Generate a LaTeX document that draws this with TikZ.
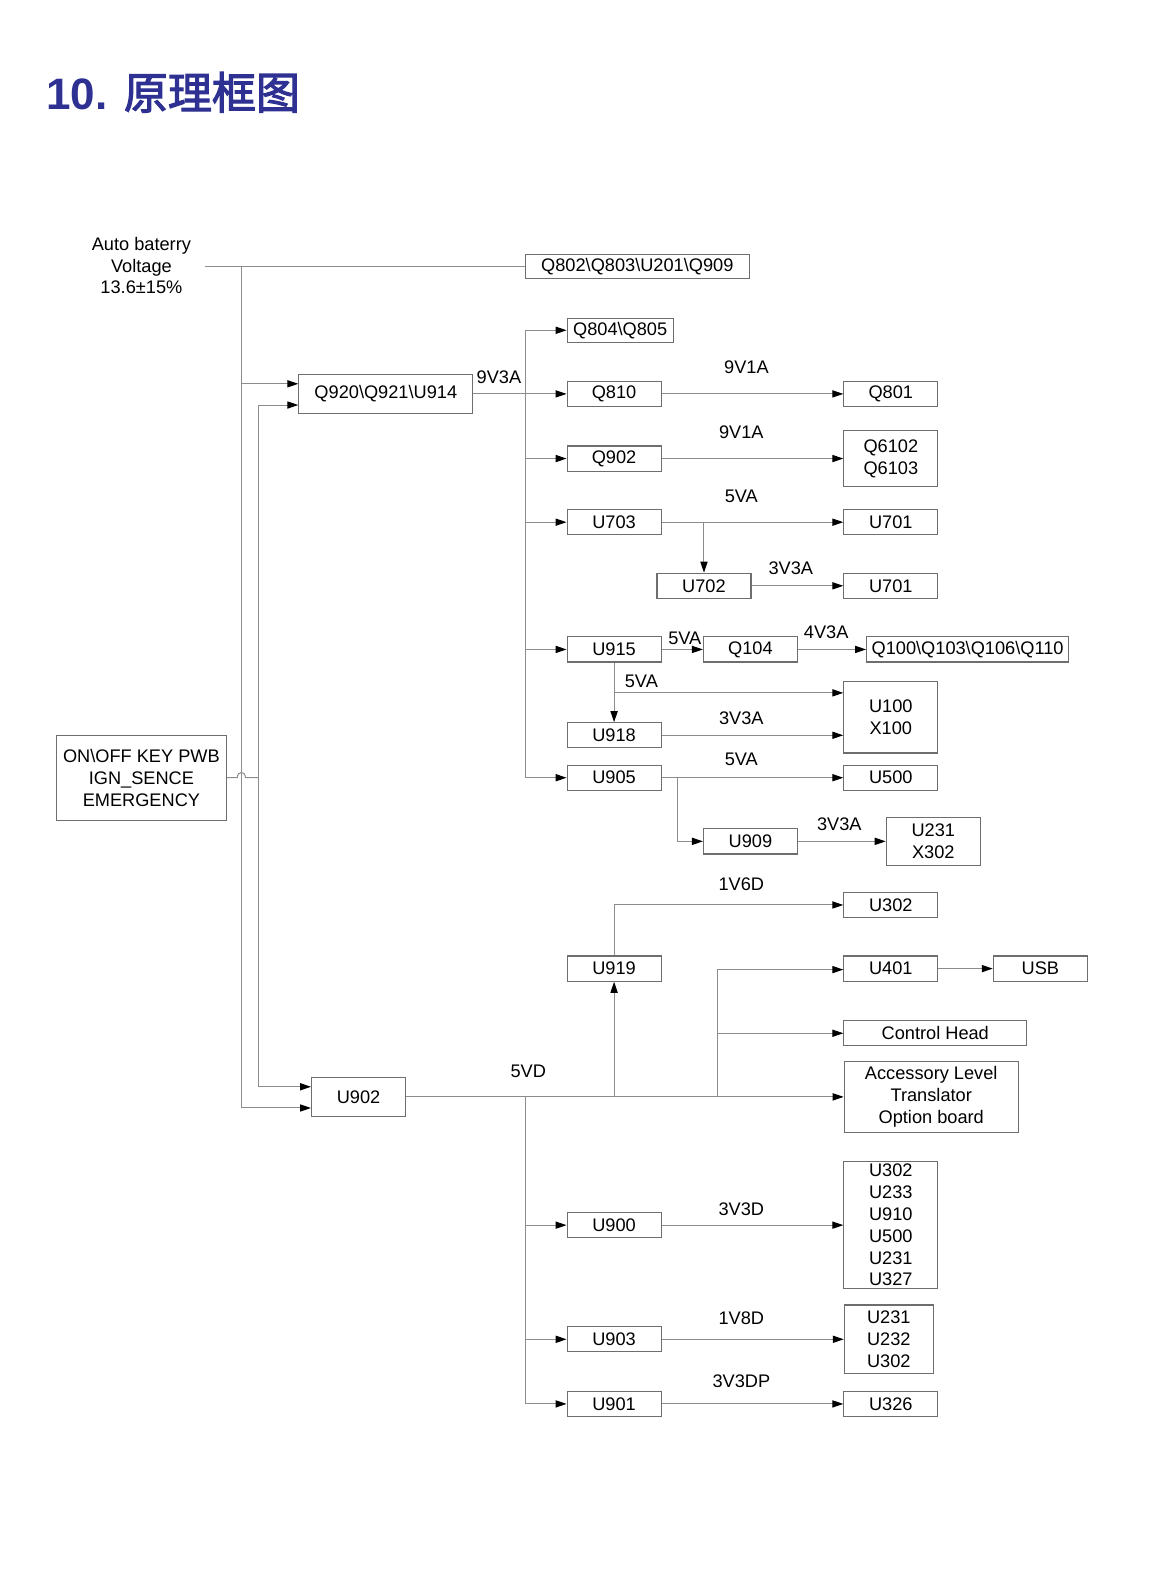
\documentclass[tikz,border=0pt]{standalone}
\usepackage{fontspec}
\setmainfont{Liberation Sans}
\newfontface\cjk[FakeBold=2.5]{Noto Sans CJK SC}
\usetikzlibrary{arrows.meta}
\definecolor{titleblue}{RGB}{46,49,146}
\definecolor{wiregray}{RGB}{140,140,140}
\definecolor{boxgray}{RGB}{110,110,110}
\begin{document}
\begin{tikzpicture}[x=0.505pt, y=-0.505pt, font=\fontsize{9.1}{10.9}\selectfont,
	block/.style = {draw=boxgray, line width=0.55pt, inner sep=0pt, minimum width=47pt, minimum height=12.6pt, align=center},
	wire/.style = {draw=wiregray, line width=0.5pt},
	feed/.style = {wire, -{Triangle[length=5.5pt, width=3.6pt, color=black]}}]

		\useasboundingbox (0,0) rectangle (1138.6,1568.3);

		\node[anchor=base west, text=titleblue, font=\fontsize{22}{26}\selectfont\bfseries] (title) at (39,108) {10. {\cjk 原理框图}};

		% supply side
		\node[align=center] (batt) at (140,263) {Auto baterry\\Voltage\\13.6±15\%};
		\node[block, minimum width=85pt, minimum height=42.5pt] (key) at (140,770) {ON\textbackslash OFF KEY PWB\\IGN\_SENCE\\EMERGENCY};
		\node[block, minimum width=112pt, minimum height=12.2pt] (q802) at (631,264) {Q802\textbackslash Q803\textbackslash U201\textbackslash Q909};
		\node[block, minimum width=87pt, minimum height=19.2pt] (q920) at (382,390) {Q920\textbackslash Q921\textbackslash U914};
		\node[block, minimum height=19.7pt] (u902) at (355,1086) {U902};

		% 9V3A branch
		\node[block, minimum width=53pt, minimum height=12.2pt] (q804) at (614,327) {Q804\textbackslash Q805};
		\node[block] (q810) at (608,390) {Q810};
		\node[block] (q801) at (882,390) {Q801};
		\node[block] (q902) at (608,454) {Q902};
		\node[block, minimum height=28.3pt] (q6102) at (882,454) {Q6102\\Q6103};
		\node[block] (u703) at (608,517) {U703};
		\node[block] (u701a) at (882,517) {U701};
		\node[block] (u702) at (697,580) {U702};
		\node[block] (u701b) at (882,580) {U701};
		\node[block] (u915) at (608,643) {U915};
		\node[block] (q104) at (743,643) {Q104};
		\node[block, minimum width=101pt] (q100) at (958,643) {Q100\textbackslash Q103\textbackslash Q106\textbackslash Q110};
		\node[block] (u918) at (608,728) {U918};
		\node[block, minimum height=35.9pt] (u100) at (882,710) {U100\\X100};
		\node[block] (u905) at (608,770) {U905};
		\node[block] (u500) at (882,770) {U500};
		\node[block] (u909) at (743,833) {U909};
		\node[block, minimum height=23.7pt] (u231) at (924,833) {U231\\X302};

		% 5VD branch
		\node[block] (u302) at (882,896) {U302};
		\node[block] (u919) at (608,959) {U919};
		\node[block] (u401) at (882,959) {U401};
		\node[block] (usb) at (1030,959) {USB};
		\node[block, minimum width=91.4pt] (ctrl) at (926,1023) {Control Head};
		\node[block, minimum width=87pt, minimum height=35.4pt] (acc) at (922,1086) {Accessory Level\\Translator\\Option board};
		\node[block] (u900) at (608,1213) {U900};
		\node[block, minimum height=63.6pt] (v3d) at (882,1213) {U302\\U233\\U910\\U500\\U231\\U327};
		\node[block] (u903) at (608,1326) {U903};
		\node[block, minimum width=44.5pt, minimum height=34.3pt] (v18d) at (880,1326) {U231\\U232\\U302};
		\node[block] (u901) at (608,1390) {U901};
		\node[block] (u326) at (882,1390) {U326};

		% rail labels
		\node (l9v3) at (494,373) {9V3A};
		\node (l9v1a) at (739,364) {9V1A};
		\node (l9v1b) at (734,428) {9V1A};
		\node (l5va) at (734,491) {5VA};
		\node (l3v3a) at (783,563) {3V3A};
		\node (l5vb) at (678,632) {5VA};
		\node (l4v3) at (818,626) {4V3A};
		\node (l5vc) at (635,675) {5VA};
		\node (l3v3b) at (734,711) {3V3A};
		\node (l5vd) at (734,752) {5VA};
		\node (l3v3c) at (831,816) {3V3A};
		\node (l1v6) at (734,875) {1V6D};
		\node (l5vdd) at (523,1061) {5VD};
		\node (l3v3d) at (734,1197) {3V3D};
		\node (l1v8) at (734,1305) {1V8D};
		\node (l3v3dp) at (734,1368) {3V3DP};

		% junction points
		\coordinate (bat) at (203,264);
		\coordinate (t1) at (239,264);
		\coordinate (t1a) at (239,380);
		\coordinate (t1b) at (239,1097);
		\coordinate (t2a) at (256,401);
		\coordinate (t2b) at (256,1076);
		\coordinate (k1) at (235,770);
		\coordinate (k2) at (243,770);
		\coordinate (k3) at (256,770);
		\coordinate (b1a) at (520,327);
		\coordinate (b1b) at (520,770);
		\coordinate (b1c) at (520,390);
		\coordinate (c703) at (697,517);
		\coordinate (c915) at (608,686);
		\coordinate (c905) at (671,770);
		\coordinate (c919) at (608,1086);
		\coordinate (c710) at (710,1086);
		\coordinate (c710a) at (710,960);
		\coordinate (b2a) at (520,1086);
		\coordinate (b2b) at (520,1390);

		% battery and key inputs
		\draw[wire] (bat) -- (q802.west);
		\draw[wire] (t1) -- (t1b);
		\draw[feed] (t1a) -- (t1a -| q920.west);
		\draw[feed] (t1b) -- (t1b -| u902.west);
		\draw[wire] (t2a) -- (t2b);
		\draw[feed] (t2a) -- (t2a -| q920.west);
		\draw[feed] (t2b) -- (t2b -| u902.west);
		\draw[wire] (key.east) -- (k1) .. controls (235,763) and (243,763) .. (k2) -- (k3);

		% 9V3A rail
		\draw[feed] (q920.east) -- (q810.west);
		\draw[wire] (b1a) -- (b1b);
		\draw[feed] (b1a) -- (q804.west);
		\draw[feed] (q902.west -| b1c) -- (q902.west);
		\draw[feed] (u703.west -| b1c) -- (u703.west);
		\draw[feed] (u915.west -| b1c) -- (u915.west);
		\draw[feed] (b1b) -- (u905.west);

		\draw[feed] (q810) -- (q801);
		\draw[feed] (q902) -- (q6102);
		\draw[feed] (u703) -- (u701a);
		\draw[feed] (c703) -- (u702.north);
		\draw[feed] (u702) -- (u701b);
		\draw[feed] (u915) -- (q104);
		\draw[feed] (q104) -- (q100);
		\draw[feed] (u915.south) -- (u918.north);
		\draw[feed] (c915) -- (c915 -| u100.west);
		\draw[feed] (u918.east) -- (u918.east -| u100.west);
		\draw[feed] (u905) -- (u500);
		\draw[feed] (c905) |- (u909.west);
		\draw[feed] (u909) -- (u909 -| u231.west);

		% 5VD rail
		\draw[feed] (u902.east) -- (acc.west);
		\draw[feed] (c919) -- (u919.south);
		\draw[feed] (u919.north) |- (u302.west);
		\draw[wire] (c710) -- (c710a);
		\draw[feed] (c710a) -- (c710a -| u401.west);
		\draw[feed] (c710a |- ctrl.west) -- (ctrl.west);
		\draw[feed] (u401) -- (usb);
		\draw[wire] (b2a) -- (b2b);
		\draw[feed] (u900.west -| b2a) -- (u900.west);
		\draw[feed] (u903.west -| b2a) -- (u903.west);
		\draw[feed] (b2b) -- (u901.west);
		\draw[feed] (u900) -- (v3d);
		\draw[feed] (u903) -- (v18d);
		\draw[feed] (u901) -- (u326);
	\end{tikzpicture}
\end{document}
